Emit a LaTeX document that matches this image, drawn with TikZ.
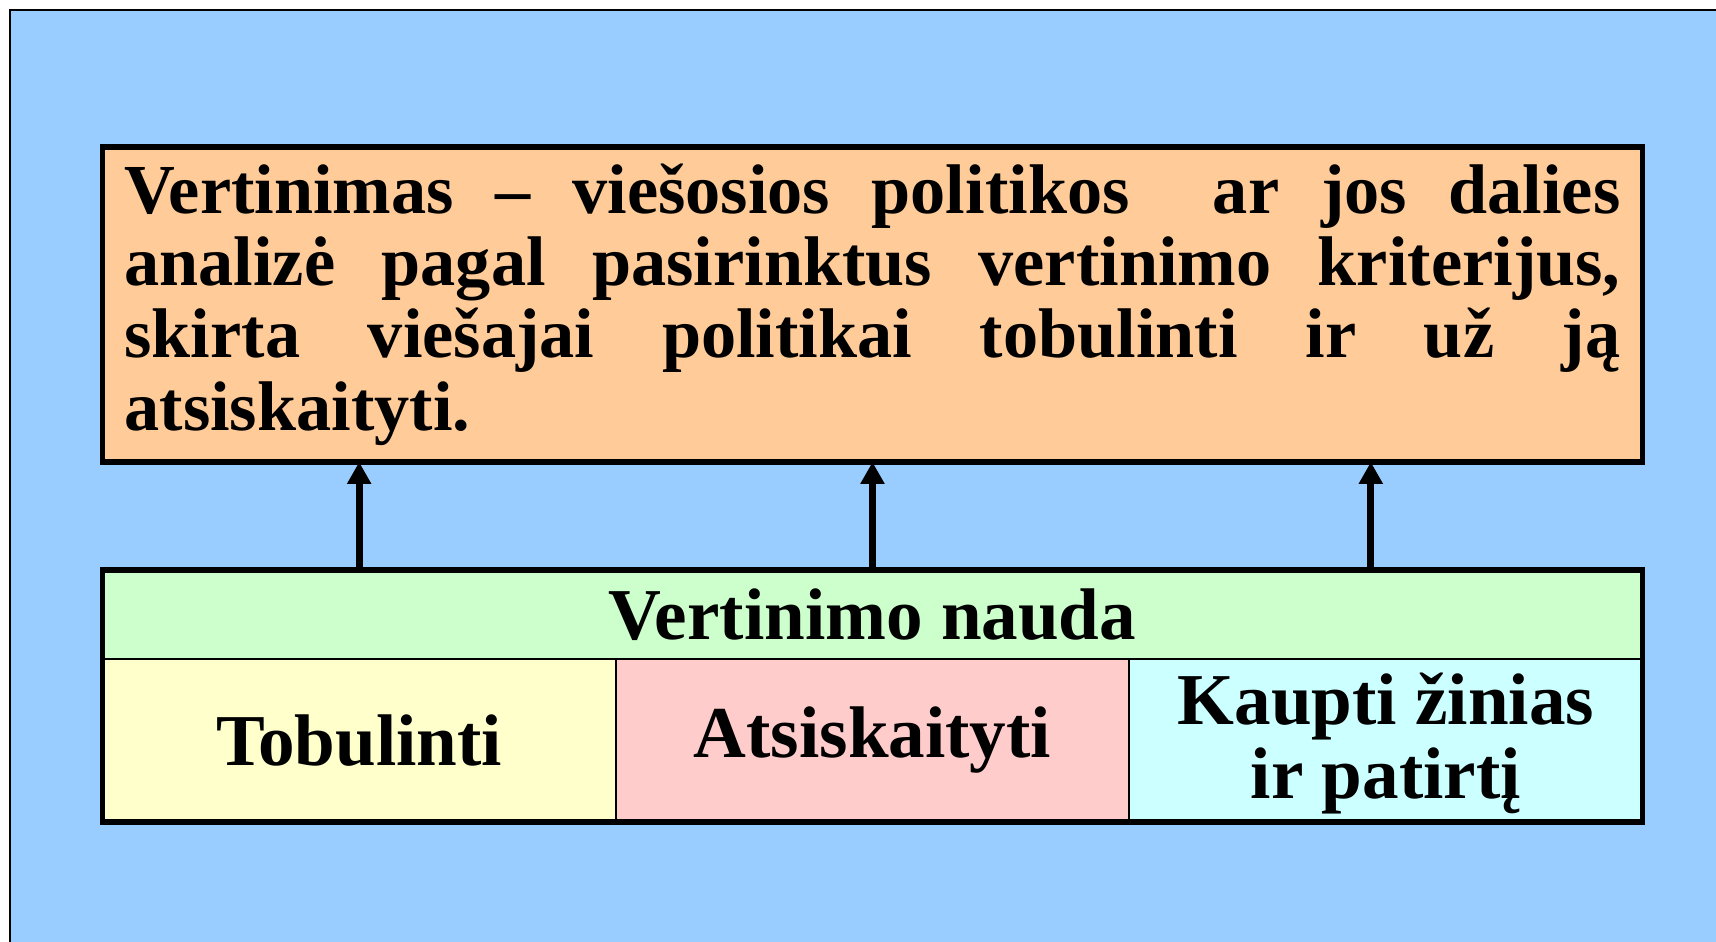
\documentclass[tikz,border=0pt]{standalone}
\usepackage{fontspec}
\setmainfont{Liberation Serif}
\usepackage{tikz}
\usetikzlibrary{positioning, arrows.meta}

\definecolor{bgblue}{HTML}{99CCFF}
\definecolor{defnorange}{HTML}{FFCC99}
\definecolor{naudagreen}{HTML}{CCFFCC}
\definecolor{tobyellow}{HTML}{FFFFCC}
\definecolor{atspink}{HTML}{FFCCCC}
\definecolor{kaucyan}{HTML}{CCFFFF}

\begin{document}
\begin{tikzpicture}[every node/.style={font=\bfseries\fontsize{20}{20.6}\selectfont},
    box/.style={draw, line width=0.055cm, outer sep=0pt, inner sep=0pt},
    cell/.style={draw, line width=0.025cm, outer sep=0pt, inner sep=0pt, minimum width=5.1333cm, minimum height=1.63cm, align=center, font=\bfseries\fontsize{20.8}{21}\selectfont},
    uparrow/.style={line width=0.07cm, -{Triangle[length=0.22cm, width=0.23cm]}}]
    \useasboundingbox (0,0) rectangle (17.16,-9.42);
    % background
    \fill[bgblue] (0.1,-0.1) rectangle (17.16,-9.42);
    \draw[line width=0.02cm] (0.1,-9.42) -- (0.1,-0.1) -- (17.16,-0.1);
    % vertinimo nauda
    \node[cell, fill=naudagreen, minimum width=15.4cm, minimum height=0.89cm] (nauda) at (8.725,-6.145) {Vertinimo nauda};
    \node[cell, fill=atspink, below=0pt of nauda] (atsiskaityti) {Atsiskaityti};
    \node[cell, fill=tobyellow, left=0pt of atsiskaityti] (tobulinti) {Tobulinti};
    \node[cell, fill=kaucyan, right=0pt of atsiskaityti, text depth=0.1cm] (kaupti) {Kaupti žinias\\ir patirtį};
    \draw[line width=0.055cm] (nauda.north west) rectangle (kaupti.south east);
    % vertinimas
    \node[box, fill=defnorange, minimum width=15.4cm, minimum height=3.15cm, text width=14.96cm, align=justify, above=1.08cm of nauda] (defn) {Vertinimas – viešosios politikos\ \ ar jos dalies\linebreak analizė pagal pasirinktus vertinimo kriterijus,\linebreak skirta viešajai politikai tobulinti ir už ją\linebreak atsiskaityti.};
    \coordinate (kx) at ([xshift=-0.15cm]kaupti.center);
    \draw[uparrow] (tobulinti |- nauda.north) -- (tobulinti |- defn.south);
    \draw[uparrow] (atsiskaityti |- nauda.north) -- (atsiskaityti |- defn.south);
    \draw[uparrow] (kx |- nauda.north) -- (kx |- defn.south);
\end{tikzpicture}
\end{document}
